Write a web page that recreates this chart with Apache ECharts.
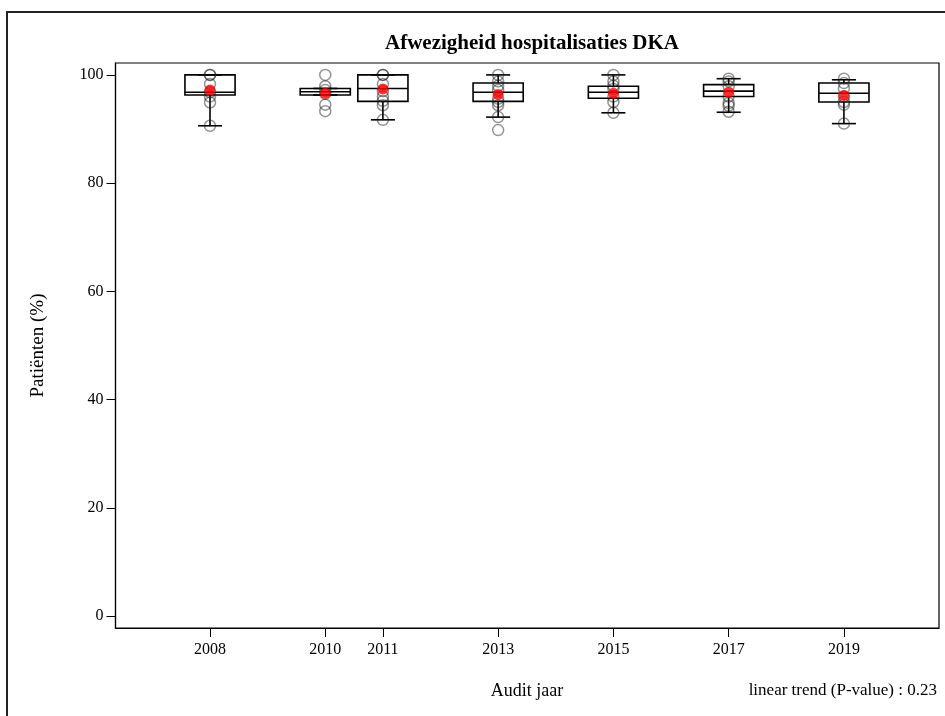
<!DOCTYPE html>
<html><head><meta charset="utf-8">
<script src="https://cdn.jsdelivr.net/npm/echarts@6/dist/echarts.min.js"></script>
<style>html,body{margin:0;padding:0;background:#fff}#c{width:945px;height:716px}</style>
</head><body><div id="c"></div>
<script>
const years = [2008, 2010, 2011, 2013, 2015, 2017, 2019];
const whiskerLow  = [90.6, 96.3, 91.7, 92.2, 93.0, 93.1, 91.0];
const q1          = [96.3, 96.3, 95.1, 95.1, 95.7, 96.0, 95.0];
const median      = [96.8, 96.9, 97.5, 96.8, 96.8, 97.0, 96.6];
const q3          = [100, 97.5, 100, 98.5, 97.9, 98.2, 98.5];
const whiskerHigh = [100, 97.5, 100, 100, 100, 99.3, 99.1];
const means       = [97.2, 96.6, 97.4, 96.4, 96.6, 96.8, 96.2];
const points2008 = [100, 100, 98.3, 96.8, 96.0, 94.9, 90.6];
const points2010 = [100, 97.9, 97.2, 96.5, 94.5, 93.3];
const points2011 = [100, 100, 98.3, 97.0, 96.0, 95.2, 94.4, 91.7];
const points2013 = [100, 98.8, 98.0, 97.2, 95.6, 95.0, 94.4, 92.2, 89.8];
const points2015 = [100, 98.8, 98.0, 97.4, 96.0, 95.0, 93.0];
const points2017 = [99.3, 98.8, 97.9, 96.0, 94.8, 94.3, 93.2];
const points2019 = [99.3, 98.5, 97.5, 96.0, 95.0, 94.5, 91.0];
const yTicks = [0, 20, 40, 60, 80, 100];

const allPoints = [points2008, points2010, points2011, points2013, points2015, points2017, points2019];
const scatterData = [];
allPoints.forEach((arr, i) => arr.forEach(v => scatterData.push([years[i], v])));
const boxData = years.map((y, i) => [y, whiskerLow[i], q1[i], median[i], q3[i], whiskerHigh[i]]);
const meanData = years.map((y, i) => [y, means[i]]);

const FONT = 'Liberation Serif';
const chart = echarts.init(document.getElementById('c'), null, {renderer: 'canvas'});
chart.setOption({
  animation: false,
  backgroundColor: '#fff',
  title: {
    text: 'Afwezigheid hospitalisaties DKA',
    left: 527, top: 28, textAlign: 'center',
    textStyle: {fontFamily: FONT, fontSize: 21, fontWeight: 'bold', color: '#000'}
  },
  graphic: [
    {type: 'rect', shape: {x: 7, y: 12, width: 980, height: 760},
     style: {fill: 'none', stroke: '#222', lineWidth: 2}, silent: true},
    {type: 'text', x: 527, y: 682,
     style: {text: 'Audit jaar', fontFamily: FONT, fontSize: 18, fill: '#000', textAlign: 'center'}},
    {type: 'text', x: 937, y: 682,
     style: {text: 'linear trend (P-value) : 0.23', fontFamily: FONT, fontSize: 17, fill: '#000', textAlign: 'right'}}
  ],
  grid: {left: 115.5, right: 6, top: 63, bottom: 88, show: true, borderColor: '#000', borderWidth: 1.2, backgroundColor: 'transparent'},
  xAxis: {
    type: 'value', min: 2006.36, max: 2020.65,
    axisLine: {show: true, onZero: false, lineStyle: {color: '#000', width: 1.2}},
    axisTick: {show: true, customValues: years, length: 9, lineStyle: {color: '#000'}},
    axisLabel: {customValues: years, margin: 14, fontFamily: FONT, fontSize: 16, color: '#000', formatter: v => String(v)},
    splitLine: {show: false}
  },
  yAxis: {
    type: 'value', min: -2.2, max: 102.2,
    name: 'Patiënten (%)', nameLocation: 'middle', nameGap: 68, nameRotate: 90,
    nameTextStyle: {fontFamily: FONT, fontSize: 19, color: '#000'},
    axisLine: {show: true, onZero: false, lineStyle: {color: '#000', width: 1.2}},
    axisTick: {show: true, customValues: yTicks, length: 9, lineStyle: {color: '#000'}},
    axisLabel: {customValues: yTicks, margin: 12, fontFamily: FONT, fontSize: 16, color: '#000'},
    splitLine: {show: false}
  },
  series: [
    {
      type: 'custom', data: boxData, z: 2,
      renderItem: function (params, api) {
        const x = api.value(0);
        const half = api.size([0.87, 0])[0] / 2;
        const capHalf = half * 0.48;
        const pLo = api.coord([x, api.value(1)]);
        const pQ1 = api.coord([x, api.value(2)]);
        const pMed = api.coord([x, api.value(3)]);
        const pQ3 = api.coord([x, api.value(4)]);
        const pHi = api.coord([x, api.value(5)]);
        const cx = pQ1[0];
        const st = {stroke: '#000', lineWidth: 1.6, fill: 'none'};
        return {type: 'group', children: [
          {type: 'line', shape: {x1: cx, y1: pQ1[1], x2: cx, y2: pLo[1]}, style: st},
          {type: 'line', shape: {x1: cx, y1: pQ3[1], x2: cx, y2: pHi[1]}, style: st},
          {type: 'line', shape: {x1: cx - capHalf, y1: pLo[1], x2: cx + capHalf, y2: pLo[1]}, style: st},
          {type: 'line', shape: {x1: cx - capHalf, y1: pHi[1], x2: cx + capHalf, y2: pHi[1]}, style: st},
          {type: 'rect', shape: {x: cx - half, y: pQ3[1], width: 2 * half, height: pQ1[1] - pQ3[1]}, style: st},
          {type: 'line', shape: {x1: cx - half, y1: pMed[1], x2: cx + half, y2: pMed[1]}, style: st}
        ]};
      }
    },
    {
      type: 'scatter', data: scatterData, z: 3, symbol: 'circle', symbolSize: 11,
      itemStyle: {color: 'transparent', borderColor: 'rgba(30,30,30,0.6)', borderWidth: 1.5}
    },
    {
      type: 'scatter', data: meanData, z: 4, symbol: 'circle', symbolSize: 11,
      itemStyle: {color: '#ff0000'}
    }
  ]
});
</script></body></html>
